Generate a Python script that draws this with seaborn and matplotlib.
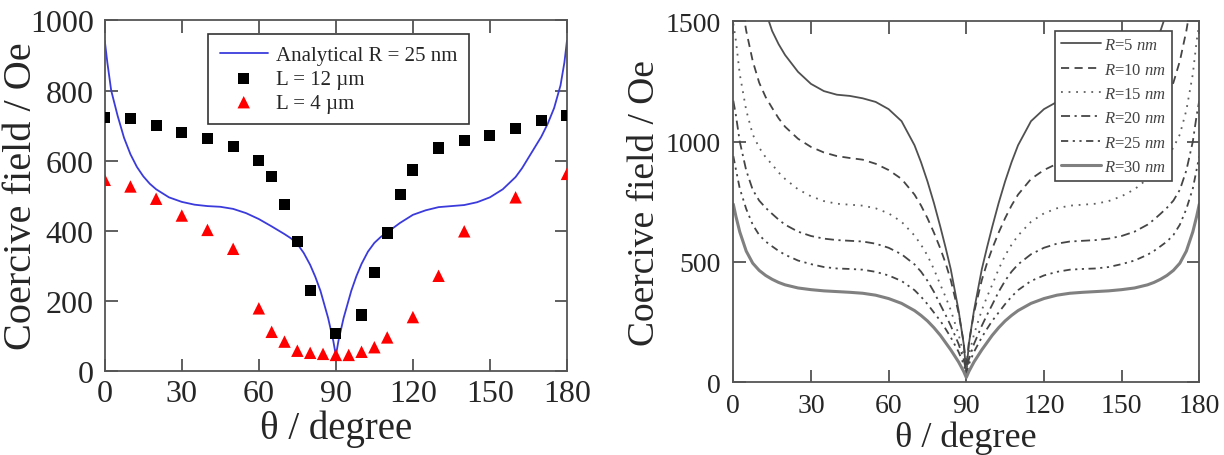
import matplotlib
matplotlib.use("Agg")
import matplotlib.pyplot as plt
import seaborn as sns

# ---- left panel data ----
theta_sq = [0, 10, 20, 30, 40, 50, 60, 65, 70, 75, 80, 90, 100, 105, 110, 115,
            120, 130, 140, 150, 160, 170, 180]
hc_12um = [724, 721, 700, 679, 662, 641, 600, 554, 474, 370, 228, 107, 159, 281,
           393, 503, 573, 636, 657, 671, 692, 714, 729]

theta_tri = [0, 10, 20, 30, 40, 50, 60, 65, 70, 75, 80, 85, 90, 95, 100, 105,
             110, 120, 130, 140, 160, 180]
hc_4um = [545, 526, 491, 443, 402, 348, 178, 111, 83, 57, 51, 48, 45, 45, 54,
          67, 95, 153, 271, 398, 495, 562]

theta_curve = [0, 1, 2.5, 5, 7.5, 10, 12.5, 15, 17.5, 20, 25, 30, 35, 40, 45,
               50, 55, 60, 65, 70, 72.5, 75, 77.5, 80, 82, 84, 87, 89, 90,
               91, 93, 96, 98, 100, 102.5, 105, 107.5, 110, 115, 120, 125, 130,
               135, 140, 145, 150, 155, 160, 162.5, 165, 167.5, 170, 172.5, 175,
               177.5, 179, 180]
hc_analytical = [942, 880, 800, 728, 665, 618, 582, 555, 534, 518, 495, 482,
                 474, 470, 468, 462, 450, 433, 412, 390, 378, 362, 336, 302,
                 268, 228, 150, 85, 43,
                 85, 150, 228, 270, 305, 340, 365, 382, 395, 422, 445, 458, 467,
                 470, 473, 481, 495, 518, 553, 578, 608, 638, 668, 705, 750,
                 815, 880, 942]

# ---- right panel data (same theta grid) ----
hc_r5 = [2400, 2300, 2150, 1950, 1780, 1640, 1540, 1460, 1405, 1360, 1290, 1240,
         1210, 1195, 1190, 1180, 1165, 1135, 1085, 985, 915, 835, 745, 645,
         560, 470, 300, 160, 40,
         160, 300, 470, 560, 645, 745, 835, 915, 985, 1085, 1135, 1165, 1180,
         1190, 1195, 1210, 1240, 1290, 1360, 1405, 1460, 1540, 1640, 1780, 1950,
         2150, 2300, 2400]
hc_r10 = [1870, 1760, 1620, 1460, 1335, 1245, 1185, 1140, 1097, 1062, 1012, 978,
          955, 940, 932, 925, 908, 882, 845, 780, 735, 682, 622, 555,
          495, 425, 290, 165, 60,
          165, 290, 425, 495, 555, 622, 682, 735, 780, 845, 882, 908, 925,
          932, 940, 955, 978, 1012, 1062, 1097, 1140, 1185, 1245, 1335, 1460,
          1620, 1760, 1870]
hc_r15 = [1490, 1420, 1280, 1130, 1030, 975, 935, 905, 872, 845, 802, 773,
          753, 742, 738, 734, 723, 702, 667, 610, 572, 527, 470, 405,
          355, 300, 200, 115, 50,
          115, 200, 300, 355, 405, 470, 527, 572, 610, 667, 702, 723, 734,
          738, 742, 753, 773, 802, 845, 872, 905, 935, 975, 1030, 1130,
          1280, 1420, 1490]
hc_r20 = [1170, 1110, 1000, 880, 800, 755, 725, 700, 676, 655, 626, 608,
          597, 591, 588, 585, 576, 559, 532, 490, 460, 422, 376, 322,
          280, 235, 160, 95, 45,
          95, 160, 235, 280, 322, 376, 422, 460, 490, 532, 559, 576, 585,
          588, 591, 597, 608, 626, 655, 676, 700, 725, 755, 800, 880,
          1000, 1110, 1170]
hc_r25 = [940, 885, 805, 720, 655, 612, 585, 565, 546, 530, 506, 491,
          479, 473, 471, 468, 459, 444, 421, 383, 356, 325, 290, 255,
          222, 187, 127, 75, 35,
          75, 127, 187, 222, 255, 290, 325, 356, 383, 421, 444, 459, 468,
          471, 473, 479, 491, 506, 530, 546, 565, 585, 612, 655, 720,
          805, 885, 940]
hc_r30 = [740, 690, 625, 545, 495, 465, 444, 428, 415, 405, 392, 385,
          380, 377, 374, 370, 362, 348, 328, 298, 278, 255, 227, 195,
          165, 135, 85, 45, 20,
          45, 85, 135, 165, 195, 227, 255, 278, 298, 328, 348, 362, 370,
          374, 377, 380, 385, 392, 405, 415, 428, 444, 465, 495, 545,
          625, 690, 740]

radius_labels = ["5", "10", "15", "20", "25", "30"]

sns.set_theme(style="ticks")
plt.rcParams["font.family"] = ["Liberation Serif", "DejaVu Serif"]
plt.rcParams["mathtext.fontset"] = "custom"
plt.rcParams["mathtext.rm"] = "Liberation Serif"
plt.rcParams["mathtext.it"] = "Liberation Serif:italic"

fig = plt.figure(figsize=(12.24, 4.56), dpi=100)
ax1 = fig.add_axes([0.0856, 0.1849, 0.3776, 0.768])
ax2 = fig.add_axes([0.5991, 0.1594, 0.3807, 0.7917])

# left panel
sns.lineplot(x=theta_curve, y=hc_analytical, ax=ax1, color="#3b3bdc", lw=1.3,
             label="Analytical R = 25 nm")
sns.scatterplot(x=theta_sq, y=hc_12um, ax=ax1, marker="s", s=64, color="black",
                edgecolor="none", label="L = 12 µm", zorder=3)
sns.scatterplot(x=theta_tri, y=hc_4um, ax=ax1, marker="^", s=80, color="#ff0000",
                edgecolor="none", label="L = 4 µm", zorder=3)

ax1.set_xlim(0, 180)
ax1.set_ylim(0, 1000)
ax1.set_xticks(range(0, 181, 30))
ax1.set_yticks(range(0, 1001, 200))
ax1.set_xlabel("θ / degree", fontsize=28)
ax1.set_ylabel("Coercive field / Oe", fontsize=29)
ax1.xaxis.set_label_coords(0.5, -0.11)
ax1.yaxis.set_label_coords(-0.14, 0.5)
ax1.tick_params(direction="in", top=True, right=True, length=9, width=1.2,
                color="#444444", labelsize=23)
ax1.tick_params(axis="x", pad=6)
ax1.tick_params(axis="y", pad=8)
leg1 = ax1.legend(loc="upper left", bbox_to_anchor=(0.224, 0.961), fontsize=15,
                  frameon=True, fancybox=False, framealpha=1, edgecolor="#333333",
                  borderpad=0.55, labelspacing=0.2, handlelength=2.3,
                  handletextpad=0.4, borderaxespad=0)
leg1.get_frame().set_linewidth(1.2)

# right panel
styles = [
    (hc_r5, "#505050", 1.3, "-"),
    (hc_r10, "#454545", 1.3, (0, (4.5, 3))),
    (hc_r15, "#606060", 1.3, (0, (1, 3.2))),
    (hc_r20, "#454545", 1.3, (0, (5, 2.5, 1.2, 2.5))),
    (hc_r25, "#454545", 1.3, (0, (4, 2.5, 1.2, 2.5, 1.2, 2.5))),
    (hc_r30, "#808080", 2.2, "-"),
]
for (vals, col, lw, ls), r in zip(styles, radius_labels):
    sns.lineplot(x=theta_curve, y=vals, ax=ax2, color=col, lw=lw, linestyle=ls,
                 label=rf"$R$={r} $nm$")

ax2.set_xlim(0, 180)
ax2.set_ylim(0, 1500)
ax2.set_xticks(range(0, 181, 30))
ax2.set_yticks([0, 500, 1000, 1500])
ax2.set_xlabel("θ / degree", fontsize=26)
ax2.set_ylabel("Coercive field / Oe", fontsize=27)
ax2.xaxis.set_label_coords(0.5, -0.107)
ax2.yaxis.set_label_coords(-0.153, 0.5)
ax2.tick_params(direction="in", top=True, right=True, length=9, width=1.2,
                color="#444444", labelsize=20)
ax2.tick_params(axis="x", pad=8)
ax2.tick_params(axis="y", pad=9)
leg2 = ax2.legend(loc="upper left", bbox_to_anchor=(0.691, 0.972), fontsize=12,
                  frameon=True, fancybox=False, framealpha=1, edgecolor="#444444",
                  borderpad=0.35, labelspacing=0.5, handlelength=2.4,
                  handletextpad=0.2, borderaxespad=0)
leg2.get_frame().set_linewidth(1.2)
for t in leg2.get_texts():
    t.set_color("#444444")

for ax in (ax1, ax2):
    for sp in ax.spines.values():
        sp.set_color("#555555")
        sp.set_linewidth(1.3)

fig.savefig("out.png", dpi=100)
